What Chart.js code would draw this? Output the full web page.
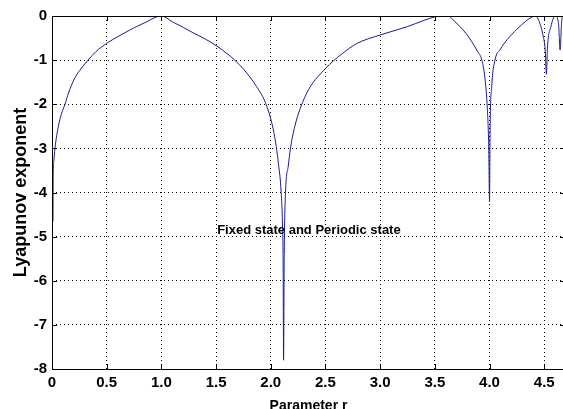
<!DOCTYPE html>
<html>
<head>
<meta charset="utf-8">
<script src="https://cdn.jsdelivr.net/npm/chart.js@4.4.0/dist/chart.umd.min.js"></script>
<style>
  html, body { margin: 0; padding: 0; background: #fff; overflow: hidden; }
  canvas { display: block; }
</style>
</head>
<body>
<canvas id="myChart" width="567" height="409"></canvas>
<script>
// parameter r and the Lyapunov exponent
const rValues = [
    0.009, 0.011, 0.016, 0.027, 0.058, 0.085, 0.119, 0.15, 0.21, 0.27, 0.33, 0.4, 0.5, 0.6, 0.71, 0.85, 1.0,
    1.1, 1.2, 1.29, 1.4, 1.5, 1.6, 1.67, 1.75, 1.87, 1.96, 2.03, 2.07, 2.095, 2.108, 2.113, 2.117,
    2.123, 2.135, 2.16, 2.18, 2.22, 2.27, 2.35, 2.5, 2.65, 2.79, 3.0, 3.25, 3.4, 3.5, 3.56, 3.62,
    3.68, 3.76, 3.83, 3.89, 3.93, 3.96, 3.98, 3.993, 4.0, 4.005, 4.02, 4.05, 4.1, 4.16, 4.25, 4.33, 4.39,
    4.42, 4.45, 4.49, 4.51, 4.52, 4.53, 4.56, 4.6, 4.63, 4.645, 4.66, 4.67, 4.69
];
const lyapunov = [
    -4.65, -3.56, -3.3, -3.0, -2.5, -2.23, -2.0, -1.75, -1.4, -1.18, -1.0, -0.81, -0.62, -0.47, -0.32, -0.15, 0,
    -0.13, -0.26, -0.38, -0.52, -0.67, -0.85, -1.0, -1.2, -1.6, -2.02, -2.66, -3.34, -4.0, -4.8, -5.6, -7.8,
    -5.4, -4.0, -3.4, -3.0, -2.5, -2.09, -1.65, -1.19, -0.86, -0.62, -0.43, -0.24, -0.1, -0.02, 0, 0,
    -0.12, -0.32, -0.55, -0.8, -1.0, -1.45, -2.1, -3.0, -4.21, -2.6, -1.6, -1.0, -0.75, -0.54, -0.3, -0.12, -0.02,
    0, -0.1, -0.45, -0.8, -1.32, -0.7, -0.25, 0, -0.15, -0.77, -0.1, 0, 0
];

const xTicks = [0, 0.5, 1, 1.5, 2, 2.5, 3, 3.5, 4, 4.5];
const yTicks = [0, -1, -2, -3, -4, -5, -6, -7, -8];

const noteText = 'Fixed state and Periodic state';
const noteAt = { x: 1.51, y: -4.85 };

const fontFamily = '"Liberation Sans", Arial, Helvetica, sans-serif';

// box with inward ticks on all four sides, plus the text note
const framePlugin = {
    id: 'frame',
    afterDatasetsDraw(chart) {
        const ctx = chart.ctx;
        const { x, y } = chart.scales;
        ctx.save();
        ctx.font = 'bold 13px ' + fontFamily;
        ctx.fillStyle = '#000';
        ctx.textBaseline = 'middle';
        ctx.textAlign = 'left';
        ctx.fillText(noteText, x.getPixelForValue(noteAt.x), y.getPixelForValue(noteAt.y));
        ctx.restore();
    },
    afterDraw(chart) {
        const ctx = chart.ctx;
        const a = chart.chartArea;
        const { x, y } = chart.scales;
        const len = 5;
        ctx.save();
        ctx.strokeStyle = '#000';
        ctx.lineWidth = 1;
        ctx.strokeRect(Math.round(a.left) + 0.5, Math.round(a.top) + 0.5,
            Math.round(a.right - a.left), Math.round(a.bottom - a.top));
        ctx.beginPath();
        xTicks.forEach(v => {
            const px = Math.round(x.getPixelForValue(v)) + 0.5;
            ctx.moveTo(px, a.bottom); ctx.lineTo(px, a.bottom - len);
            ctx.moveTo(px, a.top); ctx.lineTo(px, a.top + len);
        });
        yTicks.forEach(v => {
            const py = Math.round(y.getPixelForValue(v)) + 0.5;
            ctx.moveTo(a.left, py); ctx.lineTo(a.left + len, py);
            ctx.moveTo(a.right, py); ctx.lineTo(a.right - len, py);
        });
        ctx.stroke();
        ctx.restore();
    }
};

const points = rValues.map((r, i) => ({ x: r, y: lyapunov[i] }));

new Chart(document.getElementById('myChart').getContext('2d'), {
    type: 'line',
    data: {
        datasets: [{
            data: points,
            borderColor: 'rgb(25, 25, 150)',
            borderWidth: 1,
            pointRadius: 0,
            cubicInterpolationMode: 'monotone',
            fill: false
        }]
    },
    options: {
        responsive: false,
        animation: false,
        events: [],
        layout: { padding: { top: 16, right: 2, left: 0, bottom: 0 } },
        plugins: {
            legend: { display: false },
            tooltip: { enabled: false }
        },
        scales: {
            x: {
                type: 'linear',
                min: 0,
                max: 4.69,
                afterBuildTicks: axis => { axis.ticks = xTicks.map(v => ({ value: v })); },
                afterFit: axis => { axis.height = 40; },
                grid: { color: '#000', lineWidth: 1, drawTicks: false },
                border: { display: false, dash: [1, 3] },
                ticks: {
                    color: '#000',
                    padding: 5,
                    maxRotation: 0,
                    font: { family: fontFamily, size: 15, weight: 'bold' }
                },
                title: {
                    display: true,
                    text: 'Parameter r',
                    color: '#000',
                    padding: { top: 0, bottom: -6 },
                    font: { family: fontFamily, size: 14, weight: 'bold' }
                }
            },
            y: {
                min: -8,
                max: 0,
                afterBuildTicks: axis => { axis.ticks = yTicks.map(v => ({ value: v })); },
                afterFit: axis => { axis.width = 52; },
                grid: { color: '#000', lineWidth: 1, drawTicks: false },
                border: { display: false, dash: [1, 3] },
                ticks: {
                    color: '#000',
                    padding: 5,
                    font: { family: fontFamily, size: 15, weight: 'bold' }
                },
                title: {
                    display: true,
                    text: 'Lyapunov exponent',
                    color: '#000',
                    padding: { top: 10, bottom: 0 },
                    font: { family: fontFamily, size: 18, weight: 'bold' }
                }
            }
        }
    },
    plugins: [framePlugin]
});
</script>
</body>
</html>
